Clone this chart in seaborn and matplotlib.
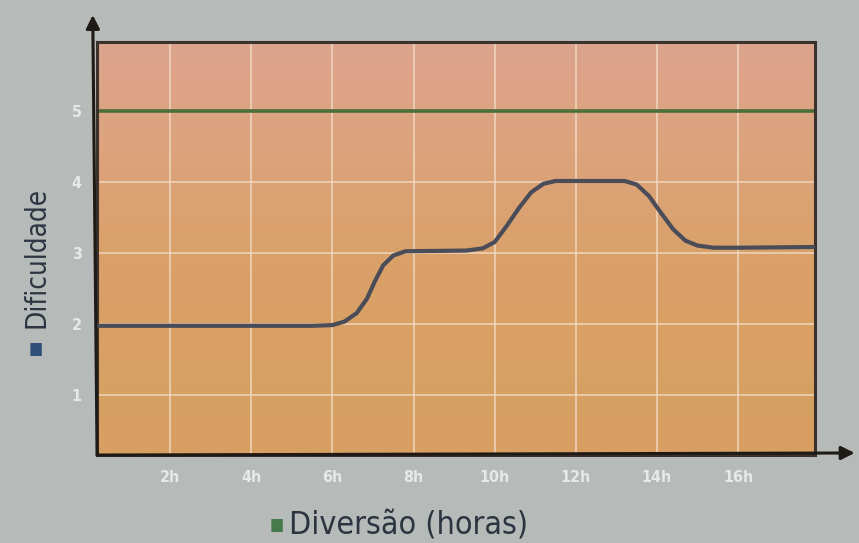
import numpy as np
import pandas as pd
import matplotlib
matplotlib.use("Agg")
import matplotlib.pyplot as plt
import seaborn as sns

# ─── Data ─────────────────────────────────────────────────────────────────────
hours = [0.2, 5.5, 6.0, 6.3, 6.6, 6.85, 7.05, 7.25, 7.5, 7.8, 9.3, 9.7, 10.0,
         10.3, 10.6, 10.9, 11.2, 11.5, 13.2, 13.5, 13.8, 14.1, 14.4, 14.7,
         15.0, 15.4, 16.0, 17.9]
difficulty = [1.97, 1.97, 1.98, 2.03, 2.15, 2.35, 2.6, 2.82, 2.96, 3.02, 3.03,
              3.06, 3.15, 3.38, 3.63, 3.85, 3.97, 4.01, 4.01, 3.96, 3.8, 3.56,
              3.33, 3.17, 3.1, 3.07, 3.07, 3.08]
fun_level = 5.0
x_ticks = [2, 4, 6, 8, 10, 12, 14, 16]
x_tick_labels = ["2h", "4h", "6h", "8h", "10h", "12h", "14h", "16h"]
y_ticks = [1, 2, 3, 4, 5]
y_tick_labels = ["1", "2", "3", "4", "5"]

df = pd.DataFrame({"horas": hours, "dificuldade": difficulty})

# ─── Style ────────────────────────────────────────────────────────────────────
sns.set_theme(style="whitegrid")
plt.rcParams["font.family"] = ["DejaVu Sans"]
plt.rcParams["font.stretch"] = "condensed"

BG = "#b6bab8"
FRAME = "#3a322b"

fig = plt.figure(figsize=(8.59, 5.43), dpi=100, facecolor=BG)
ax = fig.add_axes([0.113, 0.162, 0.836, 0.761])

# orange panel, salmon towards the top
grad = np.linspace(0, 1, 256).reshape(-1, 1)
cmap = matplotlib.colors.LinearSegmentedColormap.from_list(
    "panel", [(0.0, "#dda48e"), (0.3, "#dca37a"), (0.55, "#d9a167"),
              (1.0, "#d7a062")])
ax.imshow(grad, cmap=cmap, aspect="auto", extent=[0, 1, 0, 1],
          origin="upper", transform=ax.transAxes, zorder=0)

ax.axhline(fun_level, color="#4c6e38", lw=2.6, zorder=2)
sns.lineplot(data=df, x="horas", y="dificuldade", ax=ax, color="#4a4c58",
             lw=3.0, zorder=3)

ax.set_xlim(0.2, 17.9)
ax.set_ylim(0.15, 5.97)
ax.set_xticks(x_ticks)
ax.set_xticklabels(x_tick_labels)
ax.set_yticks(y_ticks)
ax.set_yticklabels(y_tick_labels)
ax.grid(True, color="#f2dcc8", lw=1.4, alpha=0.7)
ax.set_axisbelow(True)
ax.tick_params(length=0, labelsize=11.5, labelcolor="#e6e9e7", pad=11)
for lbl in ax.get_xticklabels() + ax.get_yticklabels():
    lbl.set_fontweight("bold")
ax.set_xlabel("")
ax.set_ylabel("")

for s in ax.spines.values():
    s.set_color(FRAME)
    s.set_linewidth(2.2)

# axis arrows
ax.annotate("", xy=(-0.006, 1.065), xytext=(0, 0), xycoords="axes fraction",
            arrowprops=dict(arrowstyle="-|>", color="#1f1a16", lw=2.2,
                            mutation_scale=20, shrinkA=0, shrinkB=0),
            annotation_clip=False)
ax.annotate("", xy=(1.055, 0.005), xytext=(0, 0), xycoords="axes fraction",
            arrowprops=dict(arrowstyle="-|>", color="#1f1a16", lw=2.2,
                            mutation_scale=20, shrinkA=0, shrinkB=0),
            annotation_clip=False)

# axis titles with little coloured squares
fig.text(0.042, 0.525, "Dificuldade", rotation=90, ha="center", va="center",
         fontsize=20, color="#2b3440")
fig.text(0.042, 0.358, "■", ha="center", va="center", fontsize=12,
         color="#2f4f78", family="DejaVu Sans")
fig.text(0.322, 0.033, "■", ha="center", va="center", fontsize=12,
         color="#477a4a", family="DejaVu Sans")
fig.text(0.336, 0.033, "Diversão (horas)", ha="left", va="center",
         fontsize=23, color="#2b3440")

fig.savefig("out.png", dpi=100, facecolor=BG)
